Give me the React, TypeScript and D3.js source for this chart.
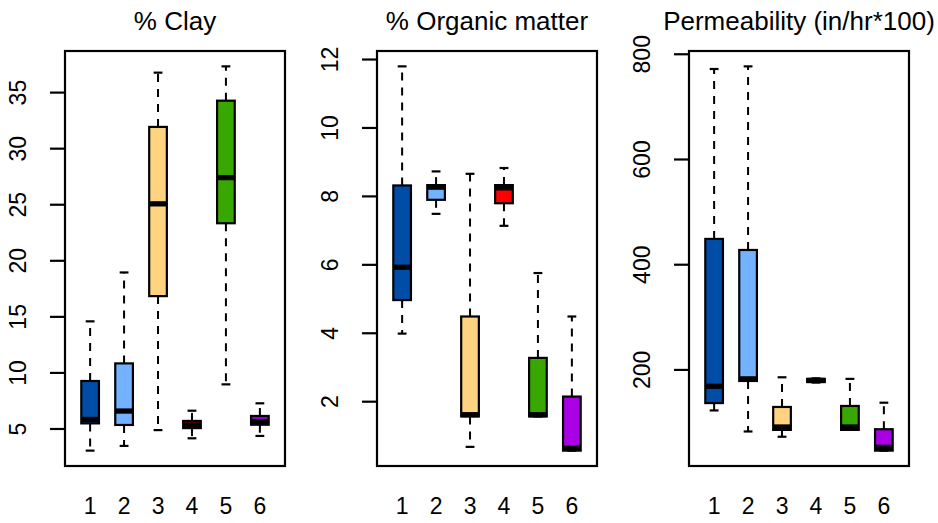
import React from "react";
import * as d3 from "d3";

const groups = ["1", "2", "3", "4", "5", "6"];
const boxColors = ["#004DA8", "#73B2FF", "#FFD37F", "#FF0000", "#38A800", "#A900E6"];

// each entry: [lower whisker, Q1, median, Q3, upper whisker]
const clayStats = [
  [3.07, 5.5, 5.85, 9.28, 14.6],
  [3.49, 5.36, 6.6, 10.85, 18.96],
  [4.9, 16.85, 25.08, 31.94, 36.78],
  [4.17, 5.08, 5.36, 5.72, 6.63],
  [8.98, 23.35, 27.42, 34.28, 37.34],
  [4.38, 5.38, 5.67, 6.16, 7.29],
];
const organicStats = [
  [3.99, 4.97, 5.93, 8.32, 11.8],
  [7.49, 7.9, 8.27, 8.33, 8.73],
  [0.68, 1.57, 1.62, 4.49, 8.66],
  [7.14, 7.8, 8.25, 8.33, 8.83],
  [1.57, 1.57, 1.62, 3.28, 5.76],
  [0.57, 0.57, 0.64, 2.15, 4.49],
];
const permStats = [
  [123, 137, 169, 449, 772],
  [83, 179, 183, 428, 777],
  [73, 86, 91.5, 129.6, 186],
  [176, 177, 180, 183, 184],
  [86, 86, 91.5, 131.5, 183],
  [46.6, 46.6, 52.8, 87.3, 137.7],
];

const clayTicks = [5, 10, 15, 20, 25, 30, 35];
const organicTicks = [2, 4, 6, 8, 10, 12];
const permTicks = [200, 400, 600, 800];

const titles = ["% Clay", "% Organic matter", "Permeability (in/hr*100)"];
const panelStats = [clayStats, organicStats, permStats];
const panelTicks = [clayTicks, organicTicks, permTicks];

const W = 938;
const H = 523;
const TOP = 51;
const BOTTOM = 466;
const PW = 220;
const FONT = "'Liberation Sans', Arial, Helvetica, sans-serif";

function Panel({ idx }: { idx: number }) {
  const stats = panelStats[idx];
  const ticks = panelTicks[idx];
  const left = 65 + idx * 312;
  const right = left + PW;
  const all = stats.flat();
  const mn = d3.min(all) as number;
  const mx = d3.max(all) as number;
  const r = mx - mn;
  const y = d3.scaleLinear().domain([mn - 0.04 * r, mx + 0.04 * r]).range([BOTTOM, TOP]);
  const n = groups.length;
  const ext = 0.04 * n;
  const x = d3.scaleLinear().domain([0.5 - ext, n + 0.5 + ext]).range([left, right]);
  const unit = x(1) - x(0);
  const hw = unit * 0.26;
  const sw = hw * 0.5;

  return (
    <g>
      <text x={(left + right) / 2} y={30} textAnchor="middle" fontSize={26} fontFamily={FONT} fill="#000">
        {titles[idx]}
      </text>
      {stats.map((s, i) => {
        const cx = x(i + 1);
        const [lo, q1, med, q3, hi] = s;
        return (
          <g key={i}>
            <line x1={cx} x2={cx} y1={y(q3)} y2={y(hi)} stroke="#000" strokeWidth={2} strokeDasharray="8,7" />
            <line x1={cx} x2={cx} y1={y(q1)} y2={y(lo)} stroke="#000" strokeWidth={2} strokeDasharray="8,7" />
            <line x1={cx - sw} x2={cx + sw} y1={y(hi)} y2={y(hi)} stroke="#000" strokeWidth={2.2} />
            <line x1={cx - sw} x2={cx + sw} y1={y(lo)} y2={y(lo)} stroke="#000" strokeWidth={2.2} />
            <rect
              x={cx - hw}
              y={y(q3)}
              width={2 * hw}
              height={Math.max(0.5, y(q1) - y(q3))}
              fill={boxColors[i]}
              stroke="#000"
              strokeWidth={2.2}
            />
            <line x1={cx - hw} x2={cx + hw} y1={y(med)} y2={y(med)} stroke="#000" strokeWidth={5.3} />
          </g>
        );
      })}
      <rect x={left} y={TOP} width={PW} height={BOTTOM - TOP} fill="none" stroke="#000" strokeWidth={2.2} />
      {ticks.map((t) => (
        <g key={t}>
          <line x1={left - 15} x2={left} y1={y(t)} y2={y(t)} stroke="#000" strokeWidth={2.2} />
          <text
            transform={`translate(${left - 39},${y(t)}) rotate(-90)`}
            textAnchor="middle"
            fontSize={23}
            fontFamily={FONT}
            fill="#000"
          >
            {t}
          </text>
        </g>
      ))}
      {groups.map((g, i) => (
        <text key={g} x={x(i + 1)} y={514} textAnchor="middle" fontSize={23} fontFamily={FONT} fill="#000">
          {g}
        </text>
      ))}
    </g>
  );
}

export default function App() {
  return (
    <svg
      width={W}
      height={H}
      viewBox={`0 0 ${W} ${H}`}
      style={{ position: "absolute", left: 0, top: 0, background: "#fff" }}
    >
      <rect width={W} height={H} fill="#fff" />
      {titles.map((_, i) => (
        <Panel key={i} idx={i} />
      ))}
    </svg>
  );
}
